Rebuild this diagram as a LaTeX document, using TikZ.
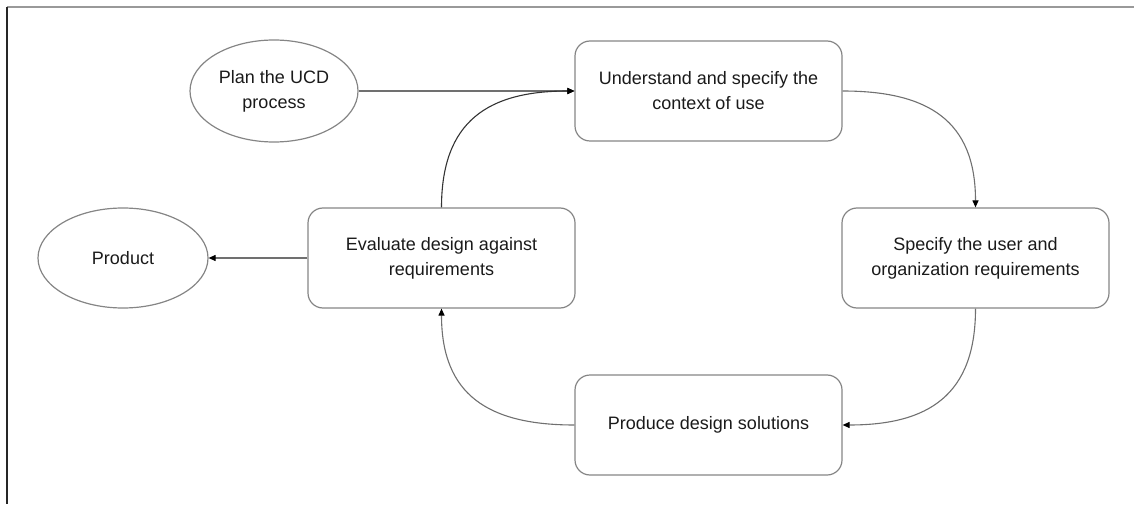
\documentclass[tikz,border=0pt]{standalone}
\usepackage{fontspec}
\setmainfont{Liberation Sans}
\usetikzlibrary{shapes.geometric,arrows.meta}
\definecolor{edgegray}{HTML}{858585}
\definecolor{linegray}{HTML}{707070}
\definecolor{txt}{HTML}{1A1A1A}
\begin{document}
\begin{tikzpicture}[x=1pt,y=1pt,
  every node/.style={font=\fontsize{18}{25}\selectfont, text=txt, align=center},
  stepbox/.style={draw=edgegray, line width=1.2pt, rounded corners=15pt,
    minimum width=267pt, minimum height=100pt, inner sep=0pt},
  oval/.style={draw=edgegray, line width=1.2pt, ellipse, inner sep=0pt},
  link/.style={draw=linegray, line width=1.1pt, -{Triangle[length=7pt,width=6pt,color=black]}},
  arcing/.style={looseness=1.25}
]
\useasboundingbox (0,0) rectangle (1134,504);
% frame edges
\draw[gray!80, line width=1.5pt] (7,497) -- (1134,497);
\draw[black!85, line width=1.5pt] (7,497) -- (7,0);

% nodes
\node[oval, minimum width=168pt, minimum height=102pt] (plan) at (274,413) {Plan the UCD\\process};
\node[stepbox] (understand) at (708.5,413) {Understand and specify the\\context of use};
\node[stepbox] (specify) at (975.5,246) {Specify the user and\\organization requirements};
\node[stepbox] (produce) at (708.5,79) {Produce design solutions};
\node[stepbox] (evaluate) at (441.5,246) {Evaluate design against\\requirements};
\node[oval, minimum width=170pt, minimum height=100pt] (product) at (123,246) {Product};

% connectors
\draw[link] (plan.east) -- (understand.west);
\draw[link] (understand.east) to[out=0,in=90,arcing] (specify.north);
\draw[link] (specify.south) to[out=-90,in=0,arcing] (produce.east);
\draw[link] (produce.west) to[out=180,in=-90,arcing] (evaluate.south);
\draw[link, draw=black!80] (evaluate.north) to[out=90,in=180,arcing] (understand.west);
\draw[link] (evaluate.west) -- (product.east);
\end{tikzpicture}
\end{document}
